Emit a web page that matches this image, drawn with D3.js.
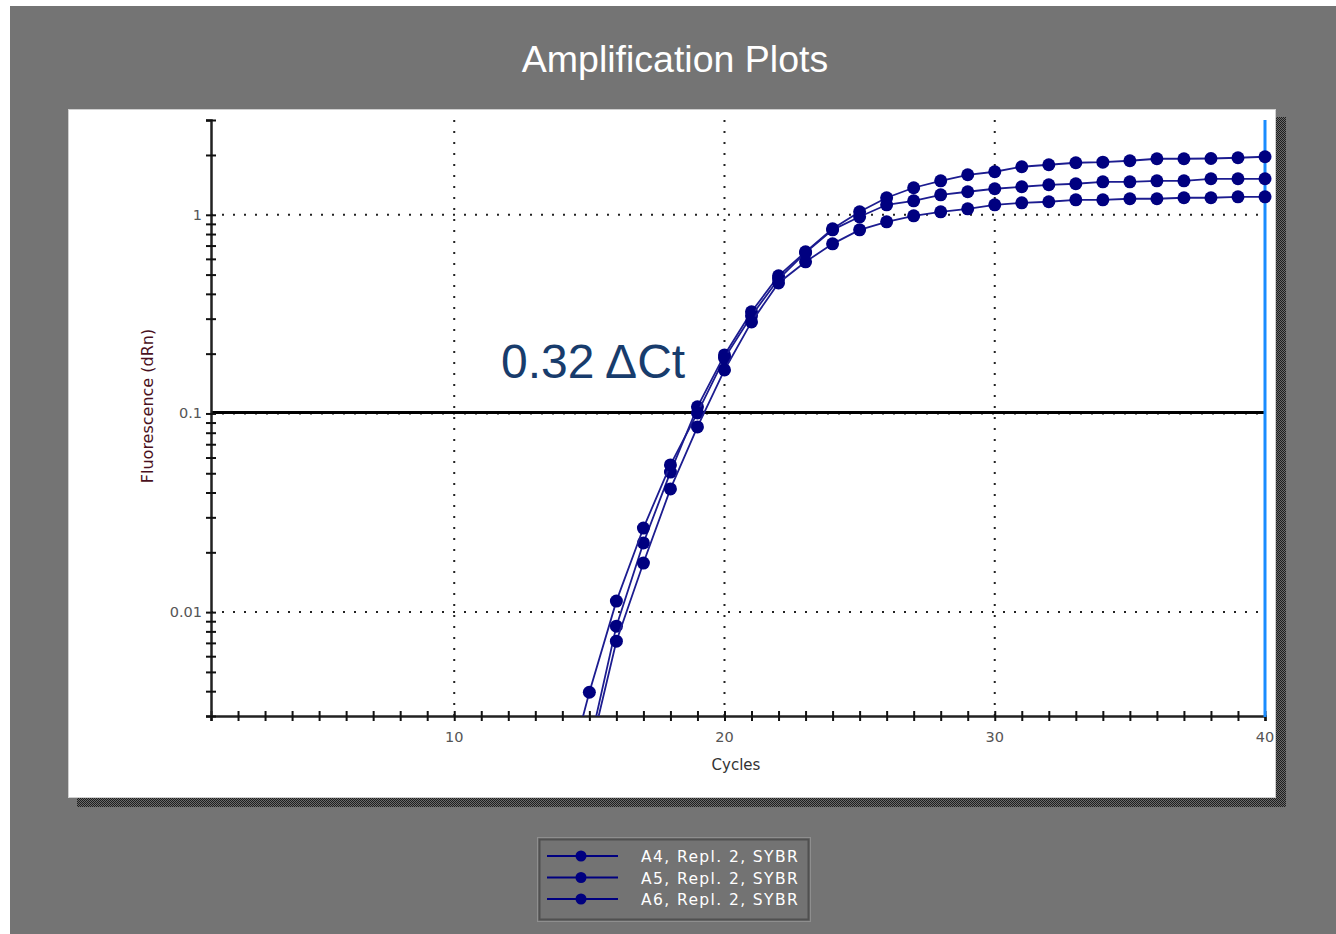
<!DOCTYPE html>
<html>
<head>
<meta charset="utf-8">
<script src="https://cdn.jsdelivr.net/npm/d3@7"></script>
<style>
  body { margin: 0; background: #fff; }
  svg { display: block; }
</style>
</head>
<body>
<div id="chart"></div>
<script>
var cycles = [14,15,16,17,18,19,20,21,22,23,24,25,26,27,28,29,30,31,32,33,34,35,36,37,38,39,40];
var a4 = [0.0009,0.0021,0.0085,0.0223,0.0507,0.108,0.197,0.325,0.493,0.651,0.85,1.035,1.218,1.368,1.483,1.59,1.647,1.745,1.786,1.828,1.84,1.871,1.915,1.915,1.92,1.937,1.96];
var a5 = [0.0012,0.00395,0.01136,0.0265,0.0551,0.1006,0.19,0.31,0.475,0.645,0.84,0.977,1.123,1.176,1.261,1.306,1.352,1.384,1.416,1.433,1.466,1.466,1.483,1.483,1.518,1.518,1.518];
var a6 = [0.0007,0.0019,0.00714,0.01766,0.0417,0.0855,0.1656,0.289,0.454,0.58,0.714,0.84,0.922,0.988,1.035,1.072,1.123,1.149,1.163,1.19,1.19,1.204,1.204,1.218,1.218,1.232,1.232];
var seriesNames = ["A4, Repl. 2, SYBR", "A5, Repl. 2, SYBR", "A6, Repl. 2, SYBR"];
var xTickLabels = [10, 20, 30, 40];
var yTickLabels = [0.01, 0.1, 1];
var threshold = 0.1;
var endCycle = 40;
var note = "0.32 \u0394Ct";

var W = 1336, H = 934;
var navy = "#000080";

var svg = d3.select("#chart")
  .append("svg")
  .attr("width", W)
  .attr("height", H);

var defs = svg.append("defs");
var pat = defs.append("pattern")
  .attr("id", "checker")
  .attr("width", 2).attr("height", 2)
  .attr("patternUnits", "userSpaceOnUse");
pat.append("rect").attr("width", 2).attr("height", 2).attr("fill", "#6a6a6a");
pat.append("rect").attr("width", 1).attr("height", 1).attr("fill", "#1e1e1e");
pat.append("rect").attr("x", 1).attr("y", 1).attr("width", 1).attr("height", 1).attr("fill", "#1e1e1e");

defs.append("clipPath").attr("id", "plotclip")
  .append("rect").attr("x", 190).attr("y", 110).attr("width", 1100).attr("height", 606);

// gray frame
svg.append("rect").attr("x", 10).attr("y", 6).attr("width", W - 10).attr("height", H - 6).attr("fill", "#747474");

svg.append("text")
  .attr("x", 675).attr("y", 72)
  .attr("text-anchor", "middle")
  .style("font-family", "'Liberation Sans', Arial, sans-serif")
  .style("font-size", "37.5px")
  .attr("fill", "#fff")
  .text("Amplification Plots");

// panel + shadow
svg.append("rect").attr("x", 77).attr("y", 117).attr("width", 1209).attr("height", 690).attr("fill", "url(#checker)");
svg.append("rect").attr("x", 68.5).attr("y", 109.5).attr("width", 1207).attr("height", 688)
  .attr("fill", "#fff").attr("stroke", "#cfcfcf").attr("stroke-width", 1);

var x = d3.scaleLinear().domain([1, 40]).range([211, 1265]);
var y = d3.scaleLog().domain([0.003, 3]).range([716, 120]);

var g = svg.append("g");

// dotted grid
g.selectAll(".vgrid").data(xTickLabels.filter(function(d){ return d < endCycle; }))
  .enter().append("line")
  .attr("x1", function(d){ return x(d); }).attr("x2", function(d){ return x(d); })
  .attr("y1", 716).attr("y2", 120)
  .attr("stroke", "#222").attr("stroke-width", 2).attr("stroke-dasharray", "2 9");
g.selectAll(".hgrid").data(yTickLabels)
  .enter().append("line")
  .attr("x1", 211).attr("x2", 1265)
  .attr("y1", function(d){ return y(d); }).attr("y2", function(d){ return y(d); })
  .attr("stroke", "#222").attr("stroke-width", 2).attr("stroke-dasharray", "2 9");

// threshold
g.append("line")
  .attr("x1", 211).attr("x2", 1265)
  .attr("y1", y(threshold) - 1).attr("y2", y(threshold) - 1)
  .attr("stroke", "#000").attr("stroke-width", 3);

// axes
var xAxis = d3.axisBottom(x).tickValues(d3.range(1, 41)).tickSize(5).tickFormat("");
var gx = g.append("g").attr("transform", "translate(0,716)").call(xAxis);
gx.selectAll(".tick line").attr("y1", -5).attr("stroke", "#111").attr("stroke-width", 2);
gx.select(".domain").attr("stroke", "#222").attr("stroke-width", 2.5);

var yAxis = d3.axisLeft(y).tickValues(y.ticks()).tickSize(5).tickFormat("");
var gy = g.append("g").attr("transform", "translate(211,0)").call(yAxis);
gy.selectAll(".tick line").attr("x1", -5).attr("x2", 5).attr("stroke", "#111").attr("stroke-width", 2);
gy.select(".domain").attr("stroke", "#222").attr("stroke-width", 2.5);

var small = "'DejaVu Sans', sans-serif";
g.selectAll(".xl").data(xTickLabels).enter().append("text")
  .attr("x", function(d){ return x(d); }).attr("y", 742)
  .attr("text-anchor", "middle")
  .style("font-family", small).style("font-size", "14.5px")
  .attr("fill", "#555")
  .text(function(d){ return d; });
g.selectAll(".yl").data(yTickLabels).enter().append("text")
  .attr("x", 202).attr("y", function(d){ return y(d) + 5; })
  .attr("text-anchor", "end")
  .style("font-family", small).style("font-size", "14.5px")
  .attr("fill", "#555")
  .text(function(d){ return d; });

g.append("text")
  .attr("x", 736).attr("y", 770)
  .attr("text-anchor", "middle")
  .style("font-family", small).style("font-size", "15px")
  .attr("fill", "#333")
  .text("Cycles");
g.append("text")
  .attr("transform", "translate(153,406) rotate(-90)")
  .attr("text-anchor", "middle")
  .style("font-family", small).style("font-size", "16px")
  .attr("fill", "#4a1020")
  .text("Fluorescence (dRn)");

// end-cycle marker
g.append("line")
  .attr("x1", x(endCycle)).attr("x2", x(endCycle))
  .attr("y1", 120).attr("y2", 717)
  .attr("stroke", "#1a8cff").attr("stroke-width", 3);

// curves
var series = [a4, a5, a6];
var line = d3.line()
  .x(function(d){ return x(d[0]); })
  .y(function(d){ return y(d[1]); });

var plot = g.append("g").attr("clip-path", "url(#plotclip)");
series.forEach(function(vals){
  var pts = cycles.map(function(c, i){ return [c, vals[i]]; });
  plot.append("path")
    .datum(pts)
    .attr("d", line)
    .attr("fill", "none")
    .attr("stroke", "#1c1c90")
    .attr("stroke-width", 1.8);
  plot.selectAll(null).data(pts.filter(function(p){ return p[1] >= 0.003; }))
    .enter().append("circle")
    .attr("cx", function(d){ return x(d[0]); })
    .attr("cy", function(d){ return y(d[1]); })
    .attr("r", 6.5)
    .attr("fill", navy);
});

g.append("text")
  .attr("x", 501).attr("y", 378)
  .style("font-family", "'Liberation Sans', Arial, sans-serif")
  .style("font-size", "48px")
  .attr("fill", "#183c6c")
  .text(note);

// legend
var lg = svg.append("g");
lg.append("rect").attr("x", 537.5).attr("y", 837.5).attr("width", 273).attr("height", 84)
  .attr("fill", "none").attr("stroke", "#8e8e8e").attr("stroke-width", 1);
lg.append("rect").attr("x", 539.5).attr("y", 839.5).attr("width", 269).attr("height", 80)
  .attr("fill", "#737373").attr("stroke", "#505050").attr("stroke-width", 2);
var rows = lg.selectAll(".row").data(seriesNames).enter().append("g")
  .attr("transform", function(d, i){ return "translate(0," + (856 + i * 21.5) + ")"; });
rows.append("line").attr("x1", 547).attr("x2", 618).attr("y1", 0).attr("y2", 0)
  .attr("stroke", navy).attr("stroke-width", 1.8);
rows.append("circle").attr("cx", 581).attr("cy", 0).attr("r", 5.5).attr("fill", navy);
rows.append("text")
  .attr("x", 641).attr("y", 6)
  .style("font-family", small).style("font-size", "15.5px")
  .style("letter-spacing", "1.4px")
  .attr("fill", "#fff")
  .text(function(d){ return d; });
</script>
</body>
</html>
